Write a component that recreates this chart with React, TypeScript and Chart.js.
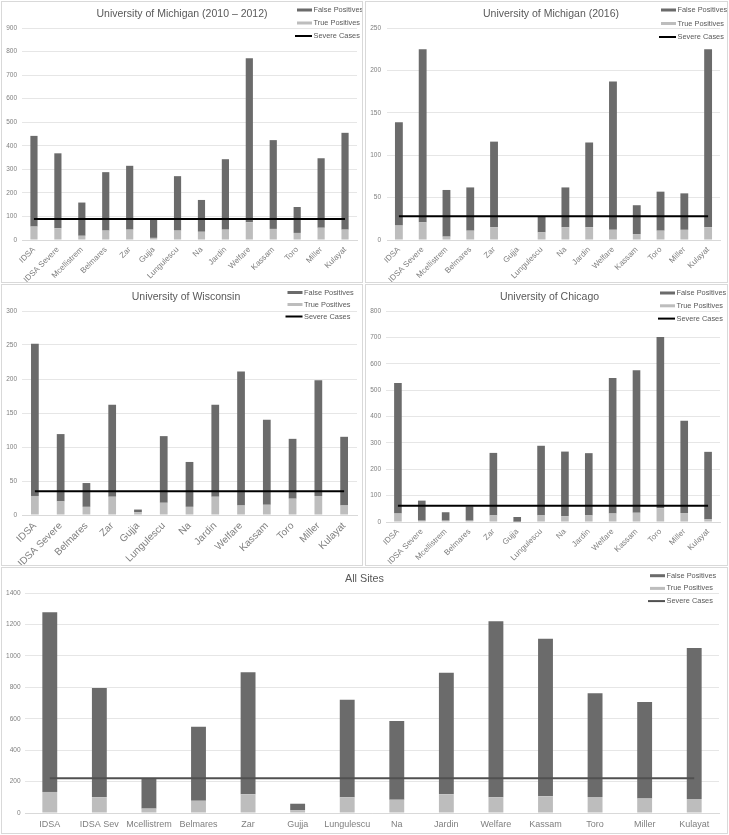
import React, { useEffect, useRef } from "react";
import { Chart, registerables } from "chart.js";

Chart.register(...registerables);
Chart.defaults.font.family = '"Liberation Sans", Arial, sans-serif';

// ---------- categories ----------
const catsFull = ["IDSA", "IDSA Severe", "Mcellistrem", "Belmares", "Zar", "Gujja", "Lungulescu", "Na", "Jardin", "Welfare", "Kassam", "Toro", "Miller", "Kulayat"];
const catsWisc = ["IDSA", "IDSA Severe", "Belmares", "Zar", "Gujja", "Lungulescu", "Na", "Jardin", "Welfare", "Kassam", "Toro", "Miller", "Kulayat"];
const catsAll = ["IDSA", "IDSA Sev", "Mcellistrem", "Belmares", "Zar", "Gujja", "Lungulescu", "Na", "Jardin", "Welfare", "Kassam", "Toro", "Miller", "Kulayat"];

// ---------- University of Michigan (2010 – 2012) ----------
const um12True = [57, 50, 18, 40, 44, 9, 40, 35, 44, 75, 47, 30, 52, 44];
const um12False = [385, 318, 141, 248, 271, 80, 231, 135, 299, 697, 377, 110, 295, 411];
const um12Severe = [89, 89, 89, 89, 89, 89, 89, 89, 89, 89, 89, 89, 89, 89];

// ---------- University of Michigan (2016) ----------
const um16True = [17, 21, 4, 11, 15, 0, 9, 15, 15, 12, 7, 11, 12, 15];
const um16False = [122, 204, 55, 51, 101, 0, 19, 47, 100, 175, 34, 46, 43, 210];
const um16Severe = [28, 28, 28, 28, 28, 28, 28, 28, 28, 28, 28, 28, 28, 28];

// ---------- University of Wisconsin ----------
const wiscTrue = [28, 20, 12, 27, 4, 18, 12, 27, 14, 15, 24, 28, 14];
const wiscFalse = [224, 99, 35, 135, 4, 98, 66, 135, 197, 125, 88, 170, 101];
const wiscSevere = [35, 35, 35, 35, 35, 35, 35, 35, 35, 35, 35, 35, 35];

// ---------- University of Chicago ----------
const chiTrue = [32, 5, 5, 5, 25, 1, 25, 22, 25, 32, 35, 52, 34, 10];
const chiFalse = [495, 76, 32, 54, 237, 18, 264, 245, 236, 514, 540, 649, 350, 256];
const chiSevere = [62, 62, 62, 62, 62, 62, 62, 62, 62, 62, 62, 62, 62, 62];

// ---------- All Sites ----------
const allTrue = [134, 100, 28, 78, 119, 17, 100, 85, 119, 100, 106, 102, 93, 89];
const allFalse = [1143, 695, 195, 471, 776, 42, 621, 501, 774, 1120, 1003, 660, 613, 961];
const allSevere = [221, 221, 221, 221, 221, 221, 221, 221, 221, 221, 221, 221, 221, 221];

const FP_COLOR = "#6b6b6b";
const TP_COLOR = "#bdbdbd";
const TEXT = "#595959";
const TICK = "#7f7f7f";

type PanelCfg = {
  left: number; top: number; w: number; h: number;
  title: string; titleX: number; titleY: number; titleSize: number;
  cats: string[]; tp: number[]; fp: number[]; severe: number[];
  yMax: number; yStep: number;
  padTop: number; padRight: number; yWidth: number; yPad: number; xHeight: number;
  xFont: number; rotate: boolean; xPad: number; barPct: number;
  legendX: number; legendY: number; legendGap: number;
  severeColor: string;
};

const panels: PanelCfg[] = [
  {
    left: 1, top: 1, w: 362, h: 282,
    title: "University of Michigan (2010 – 2012)", titleX: 180, titleY: 12, titleSize: 10.5,
    cats: catsFull, tp: um12True, fp: um12False, severe: um12Severe,
    yMax: 900, yStep: 100,
    padTop: 26, padRight: 5, yWidth: 20, yPad: 5, xHeight: 42,
    xFont: 8, rotate: true, xPad: 5, barPct: 0.3,
    legendX: 295, legendY: 8, legendGap: 13, severeColor: "#000000",
  },
  {
    left: 365, top: 1, w: 363, h: 282,
    title: "University of Michigan (2016)", titleX: 185, titleY: 12, titleSize: 10.5,
    cats: catsFull, tp: um16True, fp: um16False, severe: um16Severe,
    yMax: 250, yStep: 50,
    padTop: 26, padRight: 7, yWidth: 21, yPad: 6, xHeight: 42,
    xFont: 8, rotate: true, xPad: 5, barPct: 0.33,
    legendX: 295, legendY: 8, legendGap: 13.5, severeColor: "#000000",
  },
  {
    left: 1, top: 284, w: 362, h: 282,
    title: "University of Wisconsin", titleX: 184, titleY: 12, titleSize: 10.5,
    cats: catsWisc, tp: wiscTrue, fp: wiscFalse, severe: wiscSevere,
    yMax: 300, yStep: 50,
    padTop: 26, padRight: 5, yWidth: 20, yPad: 5, xHeight: 50,
    xFont: 10, rotate: true, xPad: 5, barPct: 0.3,
    legendX: 285.5, legendY: 7.5, legendGap: 12, severeColor: "#000000",
  },
  {
    left: 365, top: 284, w: 363, h: 282,
    title: "University of Chicago", titleX: 183.5, titleY: 12, titleSize: 10.5,
    cats: catsFull, tp: chiTrue, fp: chiFalse, severe: chiSevere,
    yMax: 800, yStep: 100,
    padTop: 26, padRight: 7, yWidth: 20, yPad: 5, xHeight: 43,
    xFont: 8, rotate: true, xPad: 5, barPct: 0.32,
    legendX: 294, legendY: 8, legendGap: 12.8, severeColor: "#000000",
  },
  {
    left: 1, top: 567, w: 727, h: 267,
    title: "All Sites", titleX: 362.5, titleY: 11, titleSize: 10.8,
    cats: catsAll, tp: allTrue, fp: allFalse, severe: allSevere,
    yMax: 1400, yStep: 200,
    padTop: 25, padRight: 8, yWidth: 23, yPad: 4.5, xHeight: 20,
    xFont: 9, rotate: false, xPad: 6, barPct: 0.3,
    legendX: 648, legendY: 7.7, legendGap: 12.7, severeColor: "#505050",
  },
];

const decorPlugin = {
  id: "decor",
  afterDraw(chart: any, _args: any, opts: any) {
    const ctx = chart.ctx as CanvasRenderingContext2D;
    ctx.save();
    ctx.fillStyle = TEXT;
    ctx.font = `${opts.titleSize}px "Liberation Sans", Arial, sans-serif`;
    ctx.textAlign = "center";
    ctx.textBaseline = "middle";
    ctx.fillText(opts.title, opts.titleX, opts.titleY);

    ctx.font = `7.4px "Liberation Sans", Arial, sans-serif`;
    ctx.textAlign = "left";
    const order = [1, 0, 2];
    order.forEach((di, k) => {
      const ds = chart.data.datasets[di];
      const y = opts.legendY + k * opts.legendGap;
      if (ds.type === "line") {
        ctx.strokeStyle = ds.borderColor;
        ctx.lineWidth = 2;
        ctx.beginPath();
        ctx.moveTo(opts.legendX - 2, y);
        ctx.lineTo(opts.legendX + 15, y);
        ctx.stroke();
      } else {
        ctx.fillStyle = ds.backgroundColor;
        ctx.fillRect(opts.legendX, y - 1.5, 15, 3);
      }
      ctx.fillStyle = TEXT;
      ctx.fillText(ds.label, opts.legendX + 16.5, y);
    });
    ctx.restore();
  },
};

function Panel({ cfg }: { cfg: PanelCfg }) {
  const ref = useRef<HTMLCanvasElement>(null);
  useEffect(() => {
    const chart = new Chart(ref.current as HTMLCanvasElement, {
      type: "bar",
      data: {
        labels: cfg.cats,
        datasets: [
          {
            type: "bar",
            label: "True Positives",
            data: cfg.tp,
            backgroundColor: TP_COLOR,
            stack: "bars",
            order: 1,
            barPercentage: cfg.barPct,
            categoryPercentage: 1,
            borderWidth: 0,
          },
          {
            type: "bar",
            label: "False Positives",
            data: cfg.fp,
            backgroundColor: FP_COLOR,
            stack: "bars",
            order: 1,
            barPercentage: cfg.barPct,
            categoryPercentage: 1,
            borderWidth: 0,
          },
          {
            type: "line",
            label: "Severe Cases",
            data: cfg.severe,
            borderColor: cfg.severeColor,
            backgroundColor: cfg.severeColor,
            borderWidth: 2,
            pointRadius: 0,
            fill: false,
            stack: "line",
            order: 0,
          },
        ] as any,
      },
      options: {
        responsive: false,
        animation: false,
        layout: { padding: { top: cfg.padTop, right: cfg.padRight, left: 0, bottom: 0 } },
        plugins: {
          legend: { display: false },
          title: { display: false },
          tooltip: { enabled: false },
          decor: {
            title: cfg.title, titleX: cfg.titleX, titleY: cfg.titleY, titleSize: cfg.titleSize,
            legendX: cfg.legendX, legendY: cfg.legendY, legendGap: cfg.legendGap,
          },
        } as any,
        scales: {
          x: {
            stacked: true,
            grid: { display: false, drawTicks: false },
            border: { display: true, color: "#d9d9d9" },
            ticks: {
              autoSkip: false,
              color: TICK,
              font: { size: cfg.xFont },
              padding: cfg.xPad,
              minRotation: cfg.rotate ? 45 : 0,
              maxRotation: cfg.rotate ? 45 : 0,
            },
            afterFit: (s: any) => { s.height = cfg.xHeight; },
          },
          y: {
            stacked: true,
            min: 0,
            max: cfg.yMax,
            grid: { color: "#e6e6e6", drawTicks: false },
            border: { display: false },
            ticks: {
              stepSize: cfg.yStep,
              color: TICK,
              font: { size: 6.5 },
              padding: cfg.yPad,
              callback: (v: any) => String(v),
            },
            afterFit: (s: any) => { s.width = cfg.yWidth; },
          },
        },
      } as any,
      plugins: [decorPlugin as any],
    });
    return () => chart.destroy();
  }, [cfg]);
  return (
    <div
      style={{
        position: "absolute",
        left: cfg.left,
        top: cfg.top,
        width: cfg.w,
        height: cfg.h,
        border: "1px solid #d9d9d9",
        boxSizing: "border-box",
        background: "#ffffff",
      }}
    >
      <canvas
        ref={ref}
        width={cfg.w - 2}
        height={cfg.h - 2}
        style={{ display: "block", width: cfg.w - 2, height: cfg.h - 2 }}
      />
    </div>
  );
}

export default function App() {
  return (
    <div style={{ position: "absolute", left: 0, top: 0, width: 729, height: 835, background: "#ffffff", overflow: "hidden" }}>
      {panels.map((p, i) => (
        <Panel key={i} cfg={p} />
      ))}
    </div>
  );
}
